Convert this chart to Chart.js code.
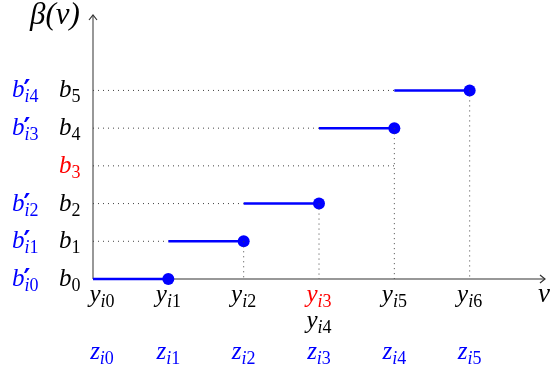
<!DOCTYPE html>
<html>
<head>
<meta charset="utf-8">
<script src="https://cdn.jsdelivr.net/npm/chart.js@4/dist/chart.umd.min.js"></script>
<style>
  html, body { margin: 0; padding: 0; background: #fff; }
  #wrap { width: 551px; height: 373px; }
</style>
</head>
<body>
<div id="wrap"><canvas id="stepChart"></canvas></div>
<script>
// Step levels b0..b5 and breakpoints along v
const levelNames = ['b0', 'b1', 'b2', 'b3', 'b4', 'b5'];
const levelValues = [0, 1, 2, 3, 4, 5];
const primedNames = ["b'i0", "b'i1", "b'i2", null, "b'i3", "b'i4"];
const droppedLevel = 3;        // b3 is skipped by the step function
const droppedLevelEnd = 4;     // its guide runs out to this v

const breakNames = ['yi0', 'yi1', 'yi2', 'yi3', 'yi4', 'yi5', 'yi6'];
const breakValues = [0, 1, 2, 3, 3, 4, 5];
const breakHighlight = 'yi3';
const zNames = ['zi0', 'zi1', 'zi2', 'zi3', 'zi4', 'zi5'];
const zValues = [0, 1, 2, 3, 4, 5];

// Steps: [from v, to v, level]
const steps = [
  [0, 1, 0],
  [1, 2, 1],
  [2, 3, 2],
  [3, 4, 4],
  [4, 5, 5]
];

const BLUE = '#0000ff';
const RED = '#ff0000';
const GUIDE = '#444';
const AXIS = '#777';
const SERIF = '"Liberation Serif", "DejaVu Serif", serif';

// Build datasets
const datasets = [];
const guide = (pts) => ({
  data: pts,
  borderColor: GUIDE, borderWidth: 1, borderDash: [1, 4],
  pointRadius: 0, showLine: true, clip: false
});
steps.forEach(s => {
  const [a, b, lv] = s;
  // horizontal dotted guide from axis to segment start
  if (a > 0) datasets.push(guide([{x: 0, y: lv}, {x: a, y: lv}]));
  // vertical dotted guide from endpoint down to axis
  if (lv > 0) datasets.push(guide([{x: b, y: lv}, {x: b, y: 0}]));
});
datasets.push(guide([{x: 0, y: droppedLevel}, {x: droppedLevelEnd, y: droppedLevel}]));
// blue step segments with closed dot at right end
steps.forEach(s => {
  const [a, b, lv] = s;
  datasets.push({
    data: [{x: a, y: lv}, {x: b, y: lv}],
    borderColor: BLUE, backgroundColor: BLUE, borderWidth: 2.5,
    pointRadius: [0, 6], pointHoverRadius: [0, 6],
    pointBorderWidth: 0, showLine: true, clip: false
  });
});

// draw "b'i4" style labels: base letter, optional prime, subscript
function mathText(ctx, txt, x, y, color, align) {
  let base = txt[0];
  let prime = false;
  let sub = txt.slice(1);
  if (sub[0] === "'") { prime = true; sub = sub.slice(1); }
  const big = 'italic 25px ' + SERIF;
  const smallIt = 'italic 18px ' + SERIF;
  const smallUp = '18px ' + SERIF;
  ctx.font = big;
  const wBase = ctx.measureText(base).width;
  let wSub = 0;
  for (const ch of sub) {
    ctx.font = /[0-9]/.test(ch) ? smallUp : smallIt;
    wSub += ctx.measureText(ch).width;
  }
  const total = wBase + wSub;
  let x0 = x;
  if (align === 'center') x0 = x - total / 2;
  if (align === 'right') x0 = x - total;
  ctx.fillStyle = color;
  ctx.textAlign = 'left';
  ctx.textBaseline = 'alphabetic';
  ctx.font = big;
  ctx.fillText(base, x0, y);
  if (prime) {
    ctx.font = 'bold 26px "DejaVu Sans", sans-serif';
    ctx.fillText('′', x0 + wBase - 1, y + 2);
  }
  let cx = x0 + wBase;
  for (const ch of sub) {
    ctx.font = /[0-9]/.test(ch) ? smallUp : smallIt;
    ctx.fillText(ch, cx, y + 5);
    cx += ctx.measureText(ch).width;
  }
}

const axesAndLabels = {
  id: 'axesAndLabels',
  beforeDatasetsDraw(chart) {
    const {ctx, chartArea: ca} = chart;
    ctx.save();
    ctx.strokeStyle = AXIS;
    ctx.lineWidth = 1.5;
    ctx.beginPath();
    ctx.moveTo(ca.left, ca.bottom);
    ctx.lineTo(ca.left, ca.top);
    ctx.moveTo(ca.left, ca.bottom);
    ctx.lineTo(ca.right, ca.bottom);
    ctx.stroke();
    ctx.lineWidth = 1.2;
    ctx.strokeStyle = '#333';
    ctx.beginPath();
    ctx.moveTo(ca.left - 4, ca.top + 5);
    ctx.lineTo(ca.left, ca.top);
    ctx.lineTo(ca.left + 4, ca.top + 5);
    ctx.moveTo(ca.right - 5, ca.bottom - 4);
    ctx.lineTo(ca.right, ca.bottom);
    ctx.lineTo(ca.right - 5, ca.bottom + 4);
    ctx.stroke();
    ctx.restore();
  },
  afterDraw(chart) {
    const {ctx, chartArea: ca, scales: {x, y}} = chart;
    ctx.save();
    // left labels
    levelValues.forEach((lv, i) => {
      const py = y.getPixelForValue(lv) + 7;
      mathText(ctx, levelNames[i], 59, py, lv === droppedLevel ? RED : '#000', 'left');
      if (primedNames[i]) mathText(ctx, primedNames[i], 12, py, BLUE, 'left');
    });
    // bottom labels
    let prev = null, row = 0;
    breakValues.forEach((v, i) => {
      row = (prev === v) ? row + 1 : 0;
      prev = v;
      let px = x.getPixelForValue(v);
      if (v === 0) px += 9;
      const color = breakNames[i] === breakHighlight ? RED : '#000';
      mathText(ctx, breakNames[i], px, ca.bottom + 23 + row * 26, color, 'center');
    });
    zValues.forEach((v, i) => {
      let px = x.getPixelForValue(v);
      if (v === 0) px += 9;
      mathText(ctx, zNames[i], px, ca.bottom + 80, BLUE, 'center');
    });
    // axis names
    ctx.fillStyle = '#000';
    ctx.font = 'italic 27px ' + SERIF;
    ctx.textAlign = 'left';
    ctx.fillText('v', ca.right - 7, ca.bottom + 23);
    ctx.font = 'italic 31px ' + SERIF;
    ctx.fillText('β(v)', 30, 24);
    ctx.restore();
  }
};

new Chart(document.getElementById('stepChart'), {
  type: 'scatter',
  data: { datasets },
  options: {
    responsive: true,
    maintainAspectRatio: false,
    animation: false,
    layout: { padding: { left: 93, right: 6, top: 15, bottom: 94 } },
    scales: {
      x: { type: 'linear', min: 0, max: 6, display: false },
      y: { type: 'linear', min: 0, max: 7, display: false }
    },
    plugins: { legend: { display: false }, tooltip: { enabled: false } }
  },
  plugins: [axesAndLabels]
});
</script>
</body>
</html>
